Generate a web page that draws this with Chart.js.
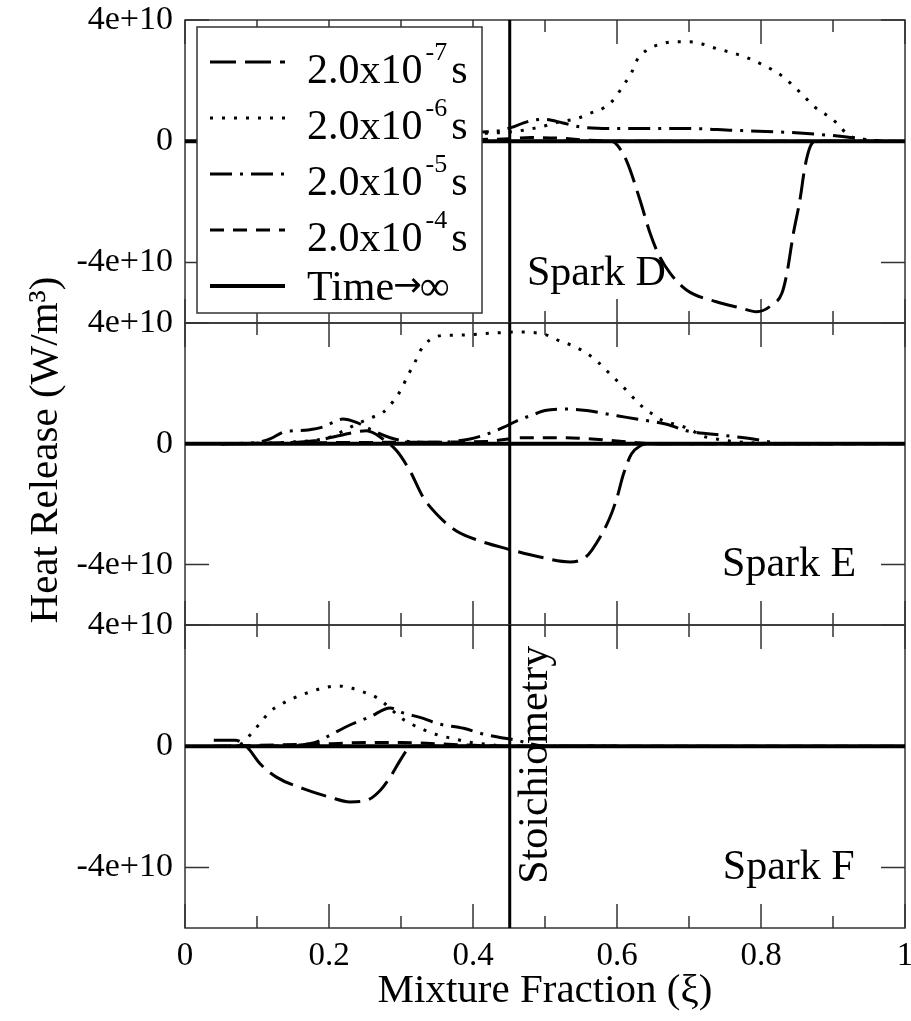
<!DOCTYPE html>
<html>
<head>
<meta charset="utf-8">
<script src="https://cdn.jsdelivr.net/npm/chart.js@4"></script>
<style>
  body { margin: 0; background: #fff; }
  #wrap { position: relative; width: 911px; height: 1021px; background: #fff; }
  #wrap canvas { position: absolute; left: 0; top: 0; }
</style>
</head>
<body>
<div id="wrap">
  <canvas id="panelD" width="911" height="1021"></canvas>
  <canvas id="panelE" width="911" height="1021"></canvas>
  <canvas id="panelF" width="911" height="1021"></canvas>
</div>
<script>
// heat release values are in units of 1e10 W/m^3, x is mixture fraction
const E10 = 1e10;
const stoichiometry = 0.451;
const xTicks = [0, 0.1, 0.2, 0.3, 0.4, 0.5, 0.6, 0.7, 0.8, 0.9, 1];
const yTicks = [-4, 0, 4];
const timeLabels = ["2.0x10", "2.0x10", "2.0x10", "2.0x10", "Time"];
const timeExponents = ["-7", "-6", "-5", "-4", ""];

// Spark D
const sparkD_t7 = [[0.04, 0], [0.59, 0], [0.597, -0.05], [0.613, -0.63], [0.632, -1.95], [0.646, -3.04], [0.657, -3.7], [0.674, -4.36], [0.697, -4.92], [0.738, -5.3], [0.771, -5.5], [0.794, -5.63], [0.815, -5.41], [0.829, -5.02], [0.836, -4.36], [0.845, -3.04], [0.854, -1.95], [0.861, -0.85], [0.868, -0.2], [0.875, 0], [0.95, 0]];
const sparkD_t6 = [[0.05, 0], [0.2, 0.08], [0.35, 0.18], [0.414, 0.26], [0.45, 0.3], [0.49, 0.45], [0.521, 0.64], [0.546, 0.76], [0.5625, 0.92], [0.583, 1.12], [0.597, 1.42], [0.608, 1.82], [0.62, 2.25], [0.627, 2.65], [0.641, 3.0], [0.66, 3.2], [0.678, 3.28], [0.701, 3.28], [0.738, 3.06], [0.778, 2.78], [0.799, 2.56], [0.817, 2.34], [0.831, 2.12], [0.847, 1.78], [0.861, 1.45], [0.875, 1.12], [0.893, 0.83], [0.907, 0.56], [0.921, 0.2], [0.947, 0.05], [0.97, 0]];
const sparkD_t5 = [[0.05, 0], [0.2, 0.1], [0.35, 0.22], [0.41, 0.3], [0.44, 0.36], [0.483, 0.69], [0.5, 0.72], [0.525, 0.6], [0.549, 0.47], [0.6, 0.42], [0.7, 0.42], [0.761, 0.36], [0.822, 0.31], [0.877, 0.23], [0.919, 0.14], [0.95, 0.04], [0.97, 0]];
const sparkD_t4 = [[0.05, 0], [0.3, 0.03], [0.45, 0.08], [0.48, 0.12], [0.52, 0.1], [0.56, 0.03], [0.6, 0], [1, 0]];
const sparkD_inf = [[0, 0], [1, 0]];

// Spark E
const sparkE_t7 = [[0.05, 0], [0.12, 0.02], [0.18, 0.1], [0.22, 0.3], [0.252, 0.43], [0.275, 0.16], [0.294, -0.23], [0.3125, -0.9], [0.331, -1.78], [0.35, -2.34], [0.377, -2.89], [0.41, -3.22], [0.451, -3.5], [0.493, -3.75], [0.535, -3.91], [0.558, -3.72], [0.576, -3.11], [0.59, -2.45], [0.6, -1.78], [0.609, -1.0], [0.62, -0.34], [0.632, -0.07], [0.645, 0], [0.9, 0]];
const sparkE_t6 = [[0.05, 0], [0.12, 0.03], [0.18, 0.12], [0.2, 0.21], [0.238, 0.65], [0.257, 0.85], [0.275, 1.04], [0.289, 1.4], [0.3, 1.79], [0.309, 2.24], [0.319, 2.68], [0.327, 3.09], [0.34, 3.44], [0.359, 3.59], [0.382, 3.6], [0.424, 3.66], [0.461, 3.7], [0.5, 3.62], [0.521, 3.4], [0.537, 3.26], [0.558, 3.0], [0.574, 2.7], [0.588, 2.37], [0.602, 2.04], [0.616, 1.7], [0.63, 1.34], [0.646, 1.04], [0.664, 0.76], [0.683, 0.63], [0.701, 0.49], [0.717, 0.27], [0.738, 0.16], [0.76, 0.08], [0.8, 0.02], [0.85, 0]];
const sparkE_t5 = [[0.05, 0], [0.1, 0.05], [0.118, 0.16], [0.136, 0.38], [0.15, 0.43], [0.171, 0.46], [0.192, 0.56], [0.206, 0.71], [0.219, 0.82], [0.238, 0.71], [0.26, 0.45], [0.285, 0.2], [0.31, 0.08], [0.35, 0.05], [0.396, 0.16], [0.419, 0.32], [0.442, 0.54], [0.461, 0.76], [0.483, 0.96], [0.5, 1.1], [0.53, 1.15], [0.558, 1.1], [0.6, 0.93], [0.627, 0.82], [0.669, 0.65], [0.697, 0.43], [0.752, 0.27], [0.789, 0.16], [0.817, 0.04], [0.83, 0], [0.9, 0]];
const sparkE_t4 = [[0.05, 0], [0.15, 0.03], [0.3, 0.05], [0.42, 0.08], [0.47, 0.2], [0.52, 0.2], [0.57, 0.15], [0.62, 0.05], [0.66, 0], [1, 0]];
const sparkE_inf = [[0, 0], [1, 0]];

// Spark F
const sparkF_t7 = [[0.04, 0.2], [0.07, 0.2], [0.085, 0], [0.09, -0.13], [0.104, -0.57], [0.127, -1.02], [0.164, -1.4], [0.201, -1.68], [0.229, -1.84], [0.252, -1.79], [0.271, -1.46], [0.285, -1.02], [0.299, -0.46], [0.31, -0.08], [0.32, 0], [0.6, 0]];
const sparkF_t6 = [[0.06, 0], [0.08, 0.1], [0.09, 0.36], [0.104, 0.75], [0.118, 1.14], [0.134, 1.39], [0.153, 1.61], [0.171, 1.77], [0.19, 1.91], [0.211, 1.99], [0.232, 1.91], [0.25, 1.77], [0.268, 1.58], [0.285, 1.25], [0.299, 0.95], [0.317, 0.7], [0.336, 0.5], [0.354, 0.35], [0.373, 0.25], [0.391, 0.15], [0.42, 0.06], [0.45, 0], [0.6, 0]];
const sparkF_t5 = [[0.1, 0], [0.16, 0.04], [0.183, 0.14], [0.201, 0.36], [0.229, 0.7], [0.257, 0.97], [0.285, 1.26], [0.303, 1.1], [0.331, 0.92], [0.35, 0.75], [0.387, 0.59], [0.414, 0.4], [0.4375, 0.29], [0.46, 0.2], [0.48, 0.08], [0.5, 0], [0.6, 0]];
const sparkF_t4 = [[0.04, 0], [0.1, 0.03], [0.2, 0.08], [0.25, 0.12], [0.3, 0.12], [0.35, 0.08], [0.4, 0.03], [0.45, 0], [1, 0]];
const sparkF_inf = [[0, 0], [1, 0]];

const lineStyles = [
  { dash: [26, 9], width: 3 },
  { dash: [3, 9], width: 3 },
  { dash: [22, 8, 3, 8], width: 3 },
  { dash: [14, 9], width: 3 },
  { dash: [], width: 4 },
];

const SERIF = "'Liberation Serif', 'Times New Roman', serif";
Chart.defaults.font.family = SERIF;
Chart.defaults.color = "#000";

// panel layout: top/bottom of the plot area, label anchor in data coords
const panels = [
  { id: "panelD", name: "Spark D", series: [sparkD_t7, sparkD_t6, sparkD_t5, sparkD_t4, sparkD_inf], top: 20, bottom: 323, labelAt: [0.475, -4.75] },
  { id: "panelE", name: "Spark E", series: [sparkE_t7, sparkE_t6, sparkE_t5, sparkE_t4, sparkE_inf], top: 323, bottom: 625, labelAt: [0.746, -4.39] },
  { id: "panelF", name: "Spark F", series: [sparkF_t7, sparkF_t6, sparkF_t5, sparkF_t4, sparkF_inf], top: 625, bottom: 928, labelAt: [0.747, -4.37] },
];

const isMajor = (v) => Math.abs(v * 5 - Math.round(v * 5)) < 1e-6;

// frame + inward ticks, stoichiometric line and panel name
const framePlugin = {
  id: "frame",
  beforeDatasetsDraw(chart) {
    const { ctx, chartArea: a, scales: { x, y } } = chart;
    ctx.save();
    ctx.strokeStyle = "#333";
    ctx.lineWidth = 1.5;
    ctx.strokeRect(a.left, a.top, a.width, a.height);
    ctx.beginPath();
    xTicks.forEach((v) => {
      const px = x.getPixelForValue(v);
      const len = isMajor(v) ? 24 : 12;
      ctx.moveTo(px, a.top);
      ctx.lineTo(px, a.top + len);
      ctx.moveTo(px, a.bottom);
      ctx.lineTo(px, a.bottom - len);
    });
    yTicks.forEach((v) => {
      const py = y.getPixelForValue(v * E10);
      ctx.moveTo(a.left, py);
      ctx.lineTo(a.left + 24, py);
      ctx.moveTo(a.right, py);
      ctx.lineTo(a.right - 24, py);
    });
    ctx.stroke();
    ctx.restore();
  },
  afterDatasetsDraw(chart, args, opts) {
    const { ctx, chartArea: a, scales: { x, y } } = chart;
    ctx.save();
    const sx = x.getPixelForValue(stoichiometry);
    ctx.strokeStyle = "#000";
    ctx.lineWidth = 3;
    ctx.beginPath();
    ctx.moveTo(sx, a.top);
    ctx.lineTo(sx, a.bottom);
    ctx.stroke();

    ctx.fillStyle = "#000";
    ctx.font = "42px " + SERIF;
    ctx.textBaseline = "alphabetic";
    ctx.textAlign = "left";
    ctx.fillText(opts.name, x.getPixelForValue(opts.labelAt[0]), y.getPixelForValue(opts.labelAt[1] * E10));

    if (opts.stoichText) {
      ctx.save();
      ctx.translate(sx + 37, y.getPixelForValue(-4.54 * E10));
      ctx.rotate(-Math.PI / 2);
      ctx.fillText("Stoichiometry", 0, 0);
      ctx.restore();
    }
    if (opts.yTitle) {
      // shared y title, sits a little above the middle panel's centre
      ctx.translate(57, (a.top + a.bottom) / 2 - 24);
      ctx.rotate(-Math.PI / 2);
      ctx.textAlign = "center";
      ctx.font = "41px " + SERIF;
      ctx.fillText(opts.yTitle, 0, 0);
    }
    ctx.restore();
  },
};

// legend box with superscripted times, drawn over the top panel
const legendPlugin = {
  id: "timeLegend",
  afterDraw(chart) {
    const { ctx, chartArea: a } = chart;
    const left = a.left + 12, top = a.top + 7;
    ctx.save();
    ctx.fillStyle = "#fff";
    ctx.fillRect(left, top, 285, 286);
    ctx.strokeStyle = "#333";
    ctx.lineWidth = 1.5;
    ctx.strokeRect(left, top, 285, 286);
    chart.data.datasets.forEach((ds, i) => {
      const yy = top + 35 + 56 * i;
      ctx.strokeStyle = "#000";
      ctx.lineWidth = ds.borderWidth;
      ctx.setLineDash(ds.borderDash);
      ctx.beginPath();
      ctx.moveTo(left + 13, yy);
      ctx.lineTo(left + 88, yy);
      ctx.stroke();
      ctx.setLineDash([]);

      ctx.fillStyle = "#000";
      ctx.textAlign = "left";
      ctx.textBaseline = "alphabetic";
      let tx = left + 110;
      ctx.font = "42px " + SERIF;
      if (timeExponents[i]) {
        const base = yy + 21;
        ctx.fillText(timeLabels[i], tx, base);
        tx += ctx.measureText(timeLabels[i]).width + 3;
        ctx.font = "26px " + SERIF;
        ctx.fillText(timeExponents[i], tx, base - 23);
        tx += ctx.measureText(timeExponents[i]).width + 4;
        ctx.font = "42px " + SERIF;
        ctx.fillText("s", tx, base);
      } else {
        // "Time→∞" with a longer arrow than the serif face has
        const base = yy + 14;
        ctx.fillText(timeLabels[i], tx, base);
        tx += ctx.measureText(timeLabels[i]).width - 1;
        ctx.font = "34px 'DejaVu Sans'";
        ctx.fillText("\u2192", tx, base - 4);
        tx += ctx.measureText("\u2192").width - 2;
        ctx.font = "42px " + SERIF;
        ctx.fillText("\u221E", tx, base);
      }
    });
    ctx.restore();
  },
};

panels.forEach((p, i) => {
  const last = i === panels.length - 1;
  const middle = i === 1;
  new Chart(document.getElementById(p.id), {
    type: "line",
    data: {
      datasets: p.series.map((pts, k) => ({
        label: timeLabels[k] + timeExponents[k],
        data: pts.map(([x, y]) => ({ x, y: y * E10 })),
        borderColor: "#000",
        borderWidth: lineStyles[k].width,
        borderDash: lineStyles[k].dash,
        borderCapStyle: "butt",
        pointRadius: 0,
        fill: false,
        cubicInterpolationMode: "monotone",
      })),
    },
    options: {
      responsive: false,
      animation: false,
      events: [],
      layout: { padding: { top: p.top, bottom: last ? 0 : 1021 - p.bottom, left: 0, right: 6 } },
      plugins: {
        legend: { display: false },
        tooltip: { enabled: false },
        frame: {
          name: p.name,
          labelAt: p.labelAt,
          stoichText: last,
          yTitle: middle ? "Heat Release (W/m\u00B3)" : "",
        },
      },
      scales: {
        x: {
          type: "linear",
          min: 0,
          max: 1,
          afterBuildTicks: (s) => { s.ticks = xTicks.map((v) => ({ value: v })); },
          afterFit: (s) => { s.height = last ? 93 : 0; s.paddingLeft = 0; s.paddingRight = 0; },
          grid: { display: false, drawTicks: false },
          border: { display: false },
          ticks: {
            display: last,
            autoSkip: false,
            maxRotation: 0,
            padding: 9,
            font: { size: 33 },
            callback: (v) => (isMajor(v) ? String(+v.toFixed(1)) : ""),
          },
          title: {
            display: last,
            text: "Mixture Fraction (\u03BE)",
            font: { size: 41, lineHeight: 1 },
            padding: { top: 0, bottom: 9 },
          },
        },
        y: {
          type: "linear",
          min: -6 * E10,
          max: 4 * E10,
          afterBuildTicks: (s) => { s.ticks = yTicks.map((v) => ({ value: v * E10 })); },
          afterFit: (s) => { s.width = 185; s.paddingTop = 0; s.paddingBottom = 0; },
          grid: { display: false, drawTicks: false },
          border: { display: false },
          ticks: {
            padding: 12,
            font: { size: 34 },
            callback: (v) => (v === 0 ? "0" : v.toExponential()),
          },
        },
      },
    },
    plugins: i === 0 ? [framePlugin, legendPlugin] : [framePlugin],
  });
});
</script>
</body>
</html>
